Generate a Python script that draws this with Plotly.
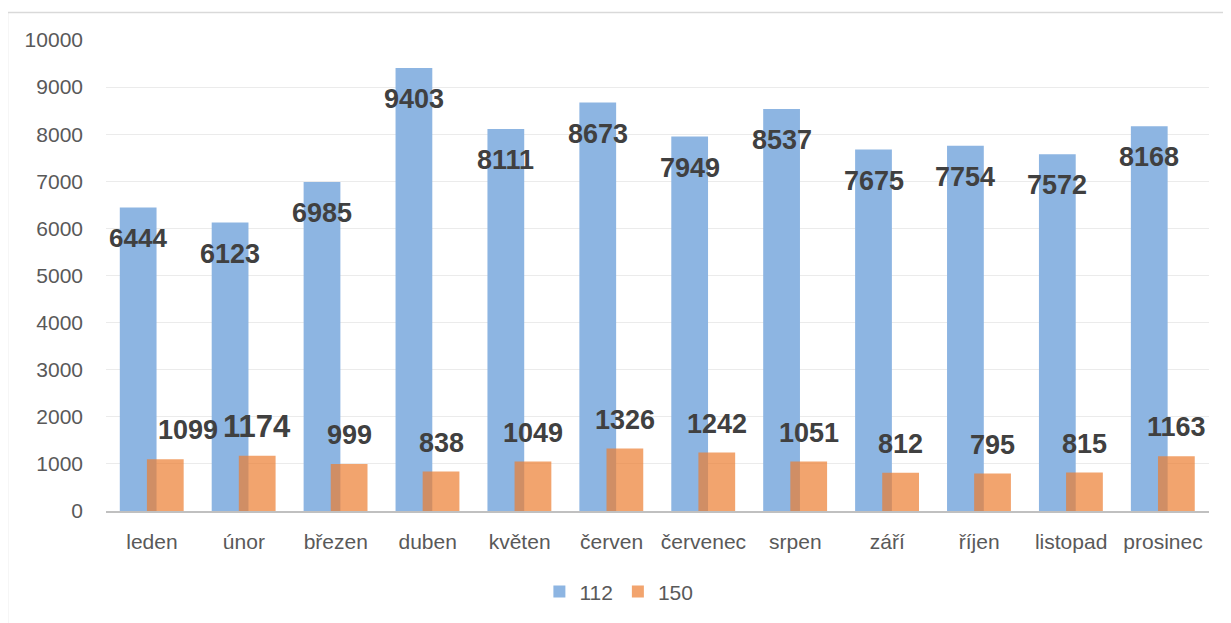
import plotly.graph_objects as go

months = ["leden", "únor", "březen", "duben", "květen", "červen", "červenec",
          "srpen", "září", "říjen", "listopad", "prosinec"]
s112 = [6444, 6123, 6985, 9403, 8111, 8673, 7949, 8537, 7675, 7754, 7572, 8168]
s150 = [1099, 1174, 999, 838, 1049, 1326, 1242, 1051, 812, 795, 815, 1163]
y_ticks = [0, 1000, 2000, 3000, 4000, 5000, 6000, 7000, 8000, 9000, 10000]

idx = list(range(len(months)))
FONT = "Liberation Sans"
BLUE = "#8DB5E2"
ORANGE = "rgba(237,125,49,0.7)"
W = 0.4
OFF_B = -0.35
OFF_O = -0.055

fig = go.Figure()
fig.add_trace(go.Bar(x=idx, y=s112, name="112", width=W, offset=OFF_B,
                     marker=dict(color=BLUE, line=dict(width=0))))
fig.add_trace(go.Bar(x=idx, y=s150, name="150", width=W, offset=OFF_O,
                     marker=dict(color=ORANGE, line=dict(width=0))))

ann = []
size_b = {0: 26}
for i, v in zip(idx, s112):
    ann.append(dict(x=i + OFF_B + W / 2, y=v, xref="x", yref="y", text=str(v),
                    showarrow=False, yshift=-31,
                    font=dict(family=FONT, size=size_b.get(i, 27), color="#404040", weight=700)))
size_o = {1: 31}
xs_o = {0: 23}
for i, v in zip(idx, s150):
    ann.append(dict(x=i + OFF_O + W / 2, y=v, xref="x", yref="y", text=str(v),
                    showarrow=False, yshift=29, xshift=xs_o.get(i, 0),
                    font=dict(family=FONT, size=size_o.get(i, 27), color="#404040", weight=700)))

fig.update_layout(
    width=1223, height=615,
    margin=dict(l=98, r=22, t=32, b=111),
    paper_bgcolor="white", plot_bgcolor="white",
    barmode="overlay",
    font=dict(family=FONT, color="#595959", size=21),
    annotations=ann,
    showlegend=True,
    legend=dict(orientation="h", x=0.465, xanchor="center", y=-0.169, yanchor="middle",
                font=dict(family=FONT, size=21, color="#595959"),
                itemwidth=30, traceorder="normal"),
    shapes=[dict(type="rect", xref="paper", yref="paper",
                 x0=-0.0893, x1=1.05, y0=-0.3, y1=1.0583,
                 line=dict(color="#d9d9d9", width=1.5), fillcolor="rgba(0,0,0,0)",
                 layer="below")],
)
fig.update_xaxes(range=[-0.5, 11.5], tickvals=idx, ticktext=months,
                 showgrid=False, showline=True, linecolor="#c0c0c0", linewidth=2,
                 ticks="", ticklabelstandoff=11, zeroline=False,
                 tickfont=dict(family=FONT, size=21, color="#595959"))
fig.update_yaxes(range=[0, 10000], tickvals=y_ticks, ticktext=[str(t) for t in y_ticks],
                 showgrid=True, gridcolor="#ebebeb", gridwidth=1,
                 showline=False, zeroline=False, ticks="", ticklabelstandoff=22,
                 tickfont=dict(family=FONT, size=21, color="#595959"))

fig.write_html("out.html")
